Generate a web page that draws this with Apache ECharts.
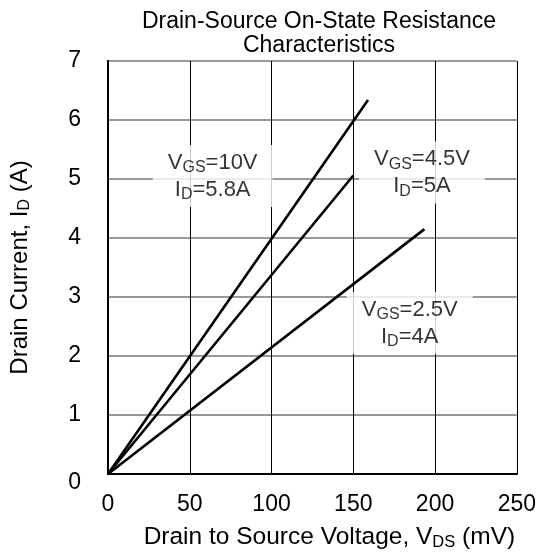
<!DOCTYPE html>
<html>
<head>
<meta charset="utf-8">
<script src="https://cdn.jsdelivr.net/npm/echarts@6/dist/echarts.min.js"></script>
<style>
html,body{margin:0;padding:0;background:#fff;}
#chart{width:539px;height:557px;}
</style>
</head>
<body>
<div id="chart"></div>
<script>
// Data
const vds10 = [0, 159];
const id10 = [0, 6.34];
const vds45 = [0, 150];
const id45 = [0, 5.06];
const vds25 = [0, 193.5];
const id25 = [0, 4.15];

const annVgs = ['10V', '4.5V', '2.5V'];
const annId = ['5.8A', '5A', '4A'];
const annX = [64, 192, 184.5];
const annY = [5.05, 5.11, 2.56];

const FONT = 'Liberation Sans, Arial, sans-serif';

function pairs(xs, ys) { return xs.map((x, i) => [x, ys[i]]); }

const chart = echarts.init(document.getElementById('chart'), null, {renderer: 'canvas'});

const lineSeries = [[vds10, id10], [vds45, id45], [vds25, id25]].map(([xs, ys]) => ({
  type: 'line',
  data: pairs(xs, ys),
  symbol: 'none',
  lineStyle: {color: '#000', width: 2.6},
  silent: true,
  z: 3
}));

const annData = annVgs.map((v, i) => ({
  value: [annX[i], annY[i]],
  vgs: v,
  id: annId[i]
}));

const option = {
  animation: false,
  backgroundColor: '#fff',
  title: {
    text: 'Drain-Source On-State Resistance\nCharacteristics',
    left: 314,
    top: 5,
    textAlign: 'center',
    textStyle: {fontFamily: FONT, fontSize: 23, fontWeight: 'normal', color: '#000', lineHeight: 24}
  },
  grid: {left: 103, top: 61, right: 21, bottom: 83, show: false},
  xAxis: [{
    type: 'value', min: 0, max: 250, interval: 50,
    axisLine: {show: true, lineStyle: {color: '#000', width: 2}},
    axisTick: {show: false},
    splitLine: {show: true, lineStyle: {color: '#000', width: 1}},
    axisLabel: {fontFamily: FONT, fontSize: 23, color: '#000', margin: 19},
    name: '{s|Drain to Source Voltage, V}{sub|DS}{s| (mV)}',
    nameLocation: 'middle',
    nameGap: 49,
    nameTextStyle: {
      fontFamily: FONT, fontSize: 24.5, color: '#000', padding: [0, 0, 0, 34],
      rich: {
        s: {fontFamily: FONT, fontSize: 24.5, color: '#000', lineHeight: 28},
        sub: {fontFamily: FONT, fontSize: 16.5, color: '#000', lineHeight: 19, verticalAlign: 'bottom'}
      }
    }
  }, {
    type: 'value', position: 'top', min: 0, max: 250, interval: 50, z: 5,
    axisLine: {show: true, lineStyle: {color: '#000', width: 2}},
    axisTick: {show: false}, axisLabel: {show: false}, splitLine: {show: false}
  }],
  yAxis: [{
    type: 'value', min: 0, max: 7, interval: 1,
    axisLine: {show: true, lineStyle: {color: '#000', width: 2}},
    axisTick: {show: false},
    splitLine: {show: true, lineStyle: {color: '#777', width: 1.5}},
    axisLabel: {
      fontFamily: FONT, fontSize: 23, color: '#000', margin: 27,
      formatter: v => v === 0 ? '{z|0}' : String(v),
      rich: {z: {fontFamily: FONT, fontSize: 23, color: '#000', padding: [18, 0, 0, 0]}}
    },
    name: '{s|Drain Current, I}{sub|D}{s| (A)}',
    nameLocation: 'middle',
    nameGap: 75,
    nameTextStyle: {
      fontFamily: FONT, fontSize: 24, color: '#000',
      rich: {
        s: {fontFamily: FONT, fontSize: 24, color: '#000', lineHeight: 26},
        sub: {fontFamily: FONT, fontSize: 16, color: '#000', lineHeight: 18, verticalAlign: 'bottom'}
      }
    }
  }, {
    type: 'value', position: 'right', min: 0, max: 7, interval: 1, z: 5,
    axisLine: {show: true, lineStyle: {color: '#000', width: 2}},
    axisTick: {show: false}, axisLabel: {show: false}, splitLine: {show: false}
  }],
  series: lineSeries.concat([{
    type: 'scatter',
    data: annData,
    symbolSize: 0,
    silent: true,
    z: 4,
    label: {
      show: true,
      position: 'inside',
      backgroundColor: '#fff',
      padding: [4, 15, 4, 15],
      align: 'center',
      verticalAlign: 'middle',
      formatter: p => '{v|V}{s|GS}{v|=' + p.data.vgs + '}\n{v|I}{s|D}{v|=' + p.data.id + '}',
      rich: {
        v: {fontFamily: FONT, fontSize: 22, color: '#000', lineHeight: 27},
        s: {fontFamily: FONT, fontSize: 16, color: '#000', lineHeight: 18, verticalAlign: 'bottom'}
      }
    }
  }])
};

chart.setOption(option);
</script>
</body>
</html>
